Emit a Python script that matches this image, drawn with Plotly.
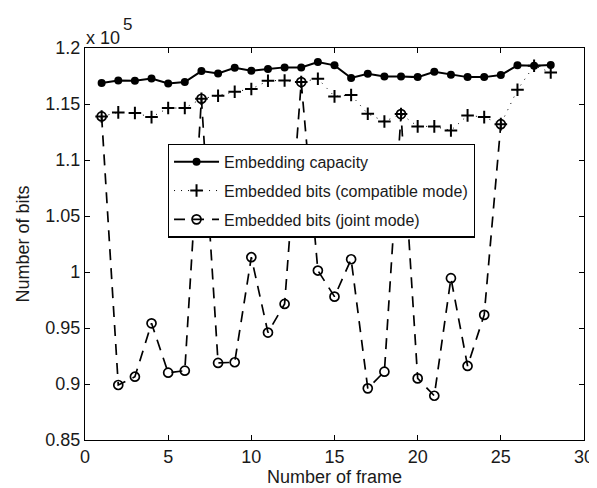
import plotly.graph_objects as go

frames = list(range(1, 29))
capacity = [116870, 117100, 117080, 117280, 116840, 116960, 117940, 117730, 118240, 117970,
            118120, 118270, 118270, 118750, 118450, 117320, 117700, 117460, 117460, 117400,
            117880, 117610, 117400, 117400, 117580, 118450, 118420, 118480]
compatible = [113890, 114250, 114190, 113830, 114640, 114640, 115470, 115740, 116100, 116340,
              117080, 117100, 116960, 117260, 115680, 115800, 114130, 113440, 114100, 113000,
              113000, 112640, 113980, 113830, 113200, 116270, 118420, 117820]
joint = [113890, 89910, 90650, 95420, 91010, 91190, 115470, 91880, 91940, 101320,
         94590, 97150, 116960, 100130, 97800, 101140, 89610, 91100, 114100, 90500,
         88950, 99450, 91610, 96170, 113200, None, None, None]

ytick_vals = [85000, 90000, 95000, 100000, 105000, 110000, 115000, 120000]
ytick_text = ["0.85", "0.9", "0.95", "1", "1.05", "1.1", "1.15", "1.2"]
xtick_vals = [0, 5, 10, 15, 20, 25, 30]

FONT = "Liberation Sans, Arial, Helvetica, sans-serif"
TXT = "#1a1a1a"

fig = go.Figure()
fig.add_trace(go.Scatter(
    x=frames, y=joint, name="Embedded bits (joint mode)", mode="lines+markers",
    line=dict(color="black", width=1.7, dash="11px,8px"),
    marker=dict(symbol="circle-open", size=9, color="black", line=dict(width=1.7)),
    legendrank=3, legendgroup="c", connectgaps=False))
fig.add_trace(go.Scatter(
    x=frames, y=compatible, name="Embedded bits (compatible mode)", mode="lines+markers",
    line=dict(color="black", width=1, dash="1px,6px"),
    marker=dict(symbol="cross-thin-open", size=9, color="black", line=dict(width=2, color="black")),
    legendrank=2, legendgroup="b"))
fig.add_trace(go.Scatter(
    x=frames, y=capacity, name="Embedding capacity", mode="lines+markers",
    line=dict(color="black", width=2),
    marker=dict(symbol="circle", size=8, color="black"),
    legendrank=1, legendgroup="a"))

axis_common = dict(
    showline=True, linecolor="black", linewidth=1.2, mirror="ticks",
    ticks="inside", ticklen=5, tickcolor="black", showgrid=False, zeroline=False,
    tickfont=dict(family=FONT, size=18, color=TXT),
)
fig.update_xaxes(range=[0, 30], tickvals=xtick_vals,
                 title=dict(text="Number of frame", font=dict(family=FONT, size=18, color=TXT), standoff=0),
                 **axis_common)
fig.update_yaxes(range=[85000, 120000], tickvals=ytick_vals, ticktext=ytick_text,
                 title=dict(text="Number of bits", font=dict(family=FONT, size=18, color=TXT), standoff=10),
                 **axis_common)

fig.add_annotation(text="x 10", xref="paper", yref="paper", x=0, y=1,
                   xanchor="left", yanchor="bottom", showarrow=False, yshift=-2, xshift=-1,
                   font=dict(family=FONT, size=18, color=TXT))
fig.add_annotation(text="5", xref="paper", yref="paper", x=0, y=1,
                   xanchor="left", yanchor="bottom", showarrow=False, yshift=12, xshift=36,
                   font=dict(family=FONT, size=17, color=TXT))

fig.update_layout(
    width=597, height=488,
    margin=dict(l=77, r=21, t=40, b=56),
    paper_bgcolor="white", plot_bgcolor="white",
    font=dict(family=FONT, size=16, color=TXT),
    legend=dict(x=0.166, y=0.756, xanchor="left", yanchor="top",
                bgcolor="white", bordercolor="black", borderwidth=1.2,
                font=dict(family=FONT, size=16, color=TXT),
                tracegroupgap=5, itemwidth=45),
)

fig.write_html("out.html")
